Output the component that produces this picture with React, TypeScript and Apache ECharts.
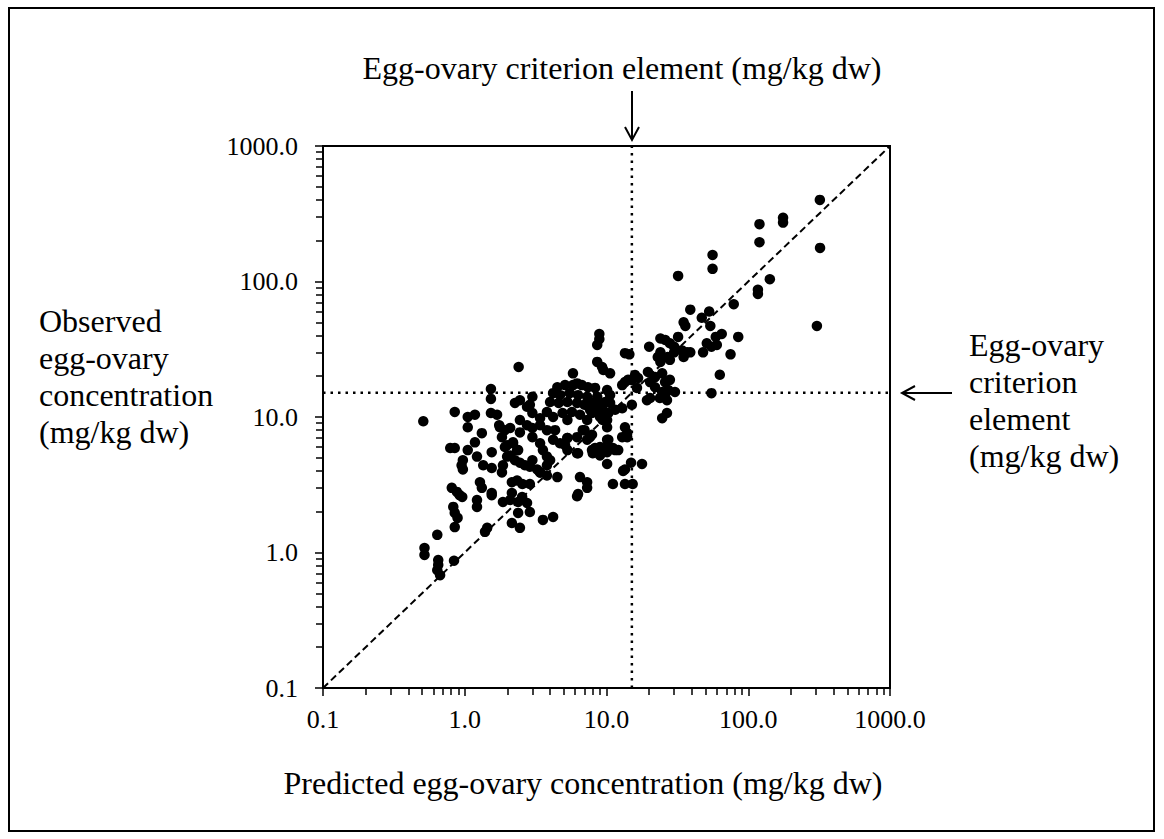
import React, { useEffect, useRef } from "react";
import * as echarts from "echarts";

// Predicted (x) and observed (y) egg-ovary concentrations, mg/kg dw
const predicted: number[] = [
  320, 120, 120, 176, 176, 321, 56, 56, 32, 142, 117, 117, 79, 39, 53, 47, 35, 36, 54, 305,
  8.9, 8.9, 8.6, 65, 59, 85, 24, 26, 28, 30, 32, 51, 60, 20, 55, 39, 48, 75, 63, 55,
  24, 23, 27, 24, 28, 30, 34, 35, 37,
  8.6, 9.3, 9.5, 10.6, 5.8,
  19.6, 22, 24.7, 25.9, 28, 27.3, 24.7, 22, 20.3, 13.5, 14.2, 15.9, 16.7, 19.3, 20.3, 23.8, 26.7, 25.9, 30.4, 24.7, 26.7,
  12.9, 15.1,
  6.8, 7.9, 7.3, 5.3, 5.1, 6.3,
  8.3, 9.4, 11.1, 12.1, 8.0, 9.0, 10.1, 10.3,
  14, 10.1, 13.1, 14.9, 17.8, 11.1, 13.5, 15.3, 7.3, 7.3, 6.3,
  13.5, 14.5,
  10.1, 10.6, 9.8, 10.3, 9.4, 10.1, 9.0, 8.6, 7.65,
  4.5, 5.1, 5.8, 6.7, 7.4, 8.3, 4.2, 4.7, 5.5, 6.3, 7.3, 8.6, 4.0, 4.6, 5.3, 6.2, 7.0, 8.0, 9.0,
  2.75, 3.0, 3.4, 3.8, 4.2, 4.9, 5.3, 5.7, 6.5, 7.3, 7.9, 9.0, 10.1, 9.4, 10.6, 11.5,
  2.45, 2.75, 3.0, 3.4, 3.8, 4.34, 2.45, 2.09, 1.92, 2.19, 1.99, 2.34, 2.09, 2.26, 2.66, 3.0, 3.56, 3.8, 4.2, 4.7,
  5.3, 7.0, 7.65, 7.9, 8.6, 9.0, 10.1, 10.6, 11.5, 12.9, 14, 13.5, 6.5, 4.5, 3.4, 3.24, 2.88,
  12.9, 15.1, 16.4, 13.5,
  2.4, 1.53, 1.53, 2.26, 2.45, 3.0, 2.88, 6.2,
  0.85, 1.05, 1.18, 1.05, 1.53, 1.69, 1.77, 1.32, 1.18, 0.79, 0.85, 1.05, 0.97, 0.95, 0.97, 1.22, 1.35, 1.55, 1.55,
  1.83, 1.92, 1.99, 1.86, 1.83, 2.19, 2.38, 2.45, 2.34, 2.55, 2.88, 3.4, 3.8, 0.81, 0.88, 0.96, 1.28, 1.32, 1.55,
  2.15, 2.15, 2.54, 6.2, 5.3, 6.2, 4.0, 3.8, 3.0, 3.4,
  0.92, 1.22, 1.22, 1.55, 0.83, 0.85, 0.89, 0.85, 0.64, 0.65, 0.65, 0.64, 0.67, 0.84, 1.44, 1.39,
  1.86, 2.09, 2.38, 2.75, 2.88, 2.38, 2.15, 2.45, 3.56, 4.2, 6.2,
  0.51, 0.52, 0.52, 1.75,
];

const observed: number[] = [
  400, 265, 195, 295, 272, 177, 157, 124, 110, 104, 87, 81, 68, 62, 60, 54, 50, 47, 47, 47,
  41, 37.5, 34, 41, 39, 39, 38, 37, 35, 33, 39, 35, 34, 33, 33, 30, 30, 29, 20.5, 15,
  30, 27.7, 27.7, 25.5, 26.4, 30, 31, 27.7, 30,
  25.5, 23.4, 22.2, 21, 21,
  21.5, 19.7, 21, 18.1, 18.8, 15.8, 15.3, 16.6, 18.1, 18.1, 18.8, 20.4, 19.4, 13.3, 13.8, 13.8, 13.3, 14.5, 15.3, 9.8, 10.7,
  11.6, 12.3,
  8, 7.4, 6.8, 7, 6.2, 5.4,
  5.9, 5.9, 5.9, 5.7, 5.4, 5.2, 5.5, 6.8,
  7.1, 4.5, 4.0, 4.6, 4.5, 3.2, 3.2, 3.2, 3.3, 3.0, 2.7,
  29.6, 29,
  15.8, 14.5, 12.9, 10.7, 9.5, 8.4, 10.4, 11.9, 11.3,
  16.6, 17.2, 17.2, 17.2, 16.6, 16.4, 15, 14.5, 15, 14.5, 14.1, 14.1, 12.9, 12.7, 12.9, 12.7, 12.3, 12.7, 12.3,
  11.9, 10.7, 9.8, 10.9, 10, 10.7, 9.5, 10.9, 10.4, 9.5, 10.7, 10, 9.5, 11.3, 12.7, 11.3,
  9.5, 8.7, 8.3, 8.7, 8.0, 8.0, 7.7, 8.3, 8.0, 6.5, 6.2, 5.7, 5.2, 4.8, 4.4, 4.8, 5.7, 5.1, 6.8, 6.4,
  7.0, 8.0, 7.1, 5.7, 5.5, 6.0, 6.8, 5.9, 5.7, 7.1, 7.6, 4.1, 3.6, 3.6, 3.9, 4.1, 4.3,
  17.2, 18.8, 16.4, 8.4,
  23.4, 16.1, 13.6, 12.7, 13.3, 14.1, 12.3, 17.7,
  10.9, 10, 10.4, 8.4, 10.7, 10.4, 8.4, 7.6, 6.5, 5.9, 5.9, 5.7, 4.8, 4.4, 4.1, 5.1, 4.4, 4.2, 5.5,
  7.1, 6.0, 5.1, 4.4, 3.9, 6.4, 5.7, 4.6, 3.4, 3.2, 3.2, 3.9, 3.7, 3.0, 2.8, 2.57, 3.3, 3.0, 2.75,
  3.3, 2.75, 2.57, 7.1, 5.7, 5.4, 4.8, 4.4, 7.1, 6.4,
  2.65, 2.44, 2.17, 2.65, 2.17, 1.96, 1.8, 1.54, 1.35, 0.88, 0.81, 0.74, 0.68, 0.87, 1.52, 1.42,
  2.36, 2.44, 2.36, 2.32, 1.99, 1.96, 1.65, 1.52, 1.74, 1.83, 2.6,
  9.3, 1.08, 0.96, 8.7,
];

const axisMin = 0.1;
const axisMax = 1000;
const criterion = 15.1;
const minorTickValues: number[] = [
  0.2, 0.3, 0.4, 0.5, 0.6, 0.7, 0.8, 0.9,
  2, 3, 4, 5, 6, 7, 8, 9,
  20, 30, 40, 50, 60, 70, 80, 90,
  200, 300, 400, 500, 600, 700, 800, 900,
];

const yTitleLines = ["Observed", "egg-ovary", "concentration", "(mg/kg dw)"];
const rightLabelLines = ["Egg-ovary", "criterion", "element", "(mg/kg dw)"];
const topTitle = "Egg-ovary criterion element (mg/kg dw)";
const xTitle = "Predicted egg-ovary concentration (mg/kg dw)";

const FONT = "'Liberation Serif', 'Times New Roman', serif";

export default function App() {
  const ref = useRef<HTMLDivElement>(null);

  useEffect(() => {
    if (!ref.current) return;
    const chart = echarts.init(ref.current, undefined, { renderer: "svg" });

    const points = predicted.map((p, i) => [p, observed[i]]);
    const labelFmt = (v: number) => Number(v).toFixed(1);

    const baseAxis = (pos: "bottom" | "left") => ({
      type: "log" as const,
      logBase: 10,
      min: axisMin,
      max: axisMax,
      position: pos,
      axisLine: { show: true, onZero: false, lineStyle: { color: "#000", width: 2 } },
      axisTick: { show: true, inside: false, length: 8, lineStyle: { color: "#000", width: 1.5 } },
      axisLabel: {
        show: true,
        formatter: labelFmt,
        fontFamily: FONT,
        fontSize: 26,
        color: "#000",
        margin: pos === "bottom" ? 18 : 25,
      },
      splitLine: { show: false },
      minorTick: { show: false },
    });

    const minorAxis = (pos: "bottom" | "left") => ({
      type: "log" as const,
      logBase: 10,
      min: axisMin,
      max: axisMax,
      position: pos,
      axisLine: { show: false },
      axisTick: {
        show: true,
        inside: false,
        length: 7,
        customValues: minorTickValues,
        lineStyle: { color: "#000", width: 1.5 },
      },
      axisLabel: { show: false },
      splitLine: { show: false },
    });

    const textLines = (lines: string[], x: number, y0: number, step: number) =>
      lines.map((t, i) => ({
        type: "text",
        x,
        y: y0 + i * step,
        style: {
          text: t,
          fontFamily: FONT,
          fontSize: 32,
          fill: "#000",
          align: "left",
          verticalAlign: "middle",
        },
      }));

    chart.setOption({
      animation: false,
      backgroundColor: "#fff",
      grid: {
        left: 323,
        top: 146,
        width: 567,
        height: 542,
        show: true,
        borderColor: "#000",
        borderWidth: 2,
        backgroundColor: "transparent",
      },
      xAxis: [baseAxis("bottom"), minorAxis("bottom")],
      yAxis: [baseAxis("left"), minorAxis("left")],
      series: [
        {
          type: "line",
          data: [
            [axisMin, axisMin],
            [axisMax, axisMax],
          ],
          symbol: "none",
          silent: true,
          lineStyle: { color: "#000", width: 2, type: [7, 4] },
          z: 2,
        },
        {
          type: "line",
          data: [
            [criterion, axisMin],
            [criterion, axisMax],
          ],
          symbol: "none",
          silent: true,
          lineStyle: { color: "#000", width: 2.5, type: [2.5, 5] },
          z: 2,
        },
        {
          type: "line",
          data: [
            [axisMin, criterion],
            [axisMax, criterion],
          ],
          symbol: "none",
          silent: true,
          lineStyle: { color: "#000", width: 2.5, type: [2.5, 5] },
          z: 2,
        },
        {
          type: "scatter",
          data: points,
          symbol: "circle",
          symbolSize: 10.5,
          itemStyle: { color: "#000", opacity: 1 },
          z: 5,
        },
      ],
      graphic: [
        {
          type: "rect",
          shape: { x: 9, y: 8, width: 1145, height: 823 },
          style: { fill: "none", stroke: "#000", lineWidth: 2 },
          silent: true,
        },
        {
          type: "text",
          x: 622,
          y: 68,
          style: {
            text: topTitle,
            fontFamily: FONT,
            fontSize: 32,
            fill: "#000",
            align: "center",
            verticalAlign: "middle",
          },
        },
        {
          type: "line",
          shape: { x1: 632, y1: 91, x2: 632, y2: 139 },
          style: { stroke: "#000", lineWidth: 2 },
        },
        {
          type: "polyline",
          shape: { points: [[625, 127], [632, 140], [639, 127]] },
          style: { stroke: "#000", lineWidth: 2, fill: "none" },
        },
        {
          type: "line",
          shape: { x1: 903, y1: 393, x2: 952, y2: 393 },
          style: { stroke: "#000", lineWidth: 2 },
        },
        {
          type: "polyline",
          shape: { points: [[915, 386], [902, 393], [915, 400]] },
          style: { stroke: "#000", lineWidth: 2, fill: "none" },
        },
        ...textLines(yTitleLines, 39, 321, 37),
        ...textLines(rightLabelLines, 969, 345, 37),
        {
          type: "text",
          x: 583,
          y: 783,
          style: {
            text: xTitle,
            fontFamily: FONT,
            fontSize: 32,
            fill: "#000",
            align: "center",
            verticalAlign: "middle",
          },
        },
      ],
    });

    return () => chart.dispose();
  }, []);

  return (
    <div
      ref={ref}
      style={{ position: "absolute", left: 0, top: 0, width: 1164, height: 839 }}
    />
  );
}
